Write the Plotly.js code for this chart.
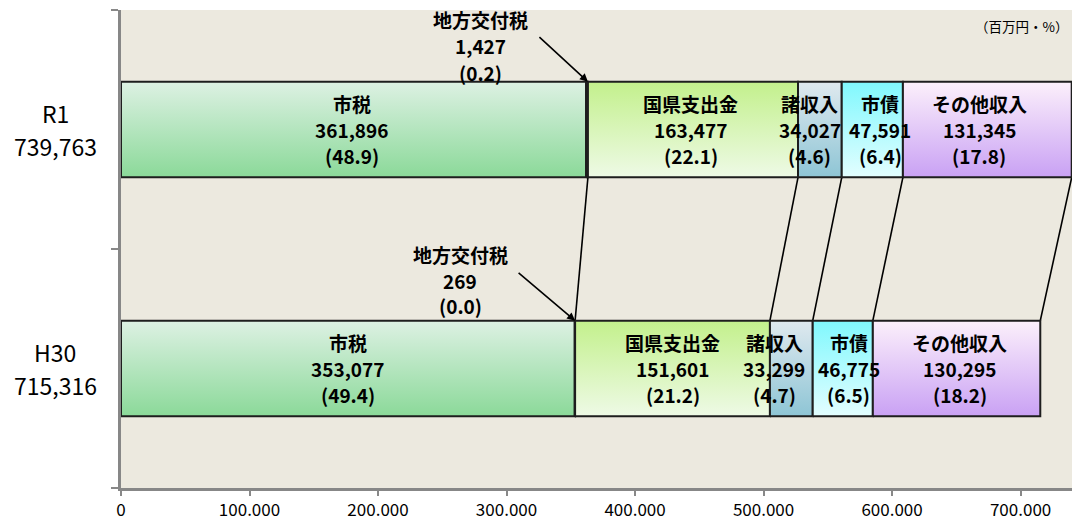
<!DOCTYPE html>
<html><head><meta charset="utf-8">
<script src="https://cdn.plot.ly/plotly-3.0.1.min.js"></script>
<style>html,body{margin:0;padding:0;background:#fff}</style>
</head><body><div id="chart" style="width:1072px;height:523px"></div>
<script>
// ---- data ----
const categories = ['H30', 'R1'];
const totals = [715316, 739763];
const itemNames = ['市税', '地方交付税', '国県支出金', '諸収入', '市債', 'その他収入'];
const valuesH30 = [353077, 269, 151601, 33299, 46775, 130295];
const valuesR1 = [361896, 1427, 163477, 34027, 47591, 131345];
const pctH30 = ['49.4', '0.0', '21.2', '4.7', '6.5', '18.2'];
const pctR1 = ['48.9', '0.2', '22.1', '4.6', '6.4', '17.8'];
const xTickVals = [0, 100000, 200000, 300000, 400000, 500000, 600000, 700000];
const xTickText = ['0', '100.000', '200.000', '300.000', '400.000', '500.000', '600.000', '700.000'];
const unitLabel = '（百万円・%）';

// ---- style ----
const topColors = ['#ddf1e3', '#111111', '#c3f08c', '#dfe9ef', '#80f8fd', '#fcf0fb'];
const bottomColors = ['#8bd999', '#111111', '#eefae6', '#8ec5d5', '#e3feff', '#c9a1f4'];
// pixel nudges of the in-bar labels (H30 row, R1 row)
const labelShift = [[0, 0, 0, -17, 6, 3], [-2, 0, -2, -10, 8, -8]];
const FONT = '"Noto Sans CJK JP", "Noto Sans", sans-serif';
const HALF = 0.2;

const seriesValues = [valuesH30, valuesR1];
const seriesPct = [pctH30, pctR1];
const fmt = v => v.toLocaleString('en-US');

const traces = [];
const annotations = [];
const cums = [];

seriesValues.forEach((vals, ci) => {
  const yc = ci + 0.5;
  let s = 0;
  const ends = [];
  vals.forEach((v, k) => {
    const e = s + v;
    ends.push(e);
    traces.push({
      type: 'scatter', mode: 'lines',
      x: [s, e, e, s, s],
      y: [yc - HALF, yc - HALF, yc + HALF, yc + HALF, yc - HALF],
      fill: 'toself',
      fillgradient: {type: 'vertical', colorscale: [[0, bottomColors[k]], [1, topColors[k]]]},
      line: {color: '#1e1e1e', width: 2},
      hoverinfo: 'skip', showlegend: false
    });
    if (k !== 1) {
      const lines = [itemNames[k], fmt(v), '(' + seriesPct[ci][k] + ')'];
      lines.forEach((t, li) => {
        annotations.push({
          x: (s + e) / 2, y: yc, xref: 'x', yref: 'y',
          text: t, showarrow: false, xanchor: 'center', yanchor: 'middle',
          xshift: labelShift[ci][k], yshift: 26 - li * 26,
          font: {family: FONT, size: 19, color: '#000', weight: 'bold'}
        });
      });
    }
    s = e;
  });
  cums.push(ends);

  // category label (two lines)
  [categories[ci], fmt(totals[ci])].forEach((t, li) => {
    annotations.push({
      x: 0, y: yc, xref: 'paper', yref: 'y', xanchor: 'center', yanchor: 'middle',
      xshift: -66, yshift: 17 - li * 33, showarrow: false,
      text: t, font: {family: FONT, size: 23, color: '#000'}
    });
  });
});

// 地方交付税 callouts
const callout = [
  {ci: 1, dx: -107, dy: [62, 36, 9], ax: -50, ay: -46},
  {ci: 0, dx: -115, dy: [66, 40, 15], ax: -58, ay: -49}
];
callout.forEach(c => {
  const xEnd = cums[c.ci][1];
  const yTop = c.ci + 0.5 + HALF;
  const lines = [itemNames[1], fmt(seriesValues[c.ci][1]), '(' + seriesPct[c.ci][1] + ')'];
  lines.forEach((t, li) => {
    annotations.push({
      x: xEnd, y: yTop, xref: 'x', yref: 'y', text: t, showarrow: false,
      xanchor: 'center', yanchor: 'middle', xshift: c.dx, yshift: c.dy[li],
      font: {family: FONT, size: 19, color: '#000', weight: 'bold'}
    });
  });
  annotations.push({
    x: xEnd, y: yTop, xref: 'x', yref: 'y', text: '', showarrow: true,
    ax: c.ax, ay: c.ay, arrowhead: 2, arrowsize: 1, arrowwidth: 1.6, arrowcolor: '#000'
  });
});

// connector lines between bars
const cx = [], cy = [];
for (let k = 1; k < itemNames.length; k++) {
  cx.push(cums[1][k], cums[0][k], null);
  cy.push(1.5 - HALF, 0.5 + HALF, null);
}
traces.unshift({
  type: 'scatter', mode: 'lines', x: cx, y: cy,
  line: {color: '#000', width: 1.6}, hoverinfo: 'skip', showlegend: false
});

annotations.push({
  x: 1, y: 0.967, xref: 'paper', yref: 'paper', xanchor: 'right', yanchor: 'middle',
  xshift: -2, showarrow: false, text: unitLabel, font: {family: FONT, size: 13.5, color: '#000'}
});

const layout = {
  width: 1072, height: 523,
  margin: {l: 121, r: 0, t: 10, b: 35},
  paper_bgcolor: '#ffffff', plot_bgcolor: '#ece9df',
  xaxis: {
    range: [0, 740000], tickvals: xTickVals, ticktext: xTickText,
    ticks: 'outside', ticklen: 5, tickwidth: 2, tickcolor: '#888',
    showline: true, linecolor: '#878787', linewidth: 3,
    showgrid: false, zeroline: false, fixedrange: true,
    tickfont: {family: FONT, size: 17, color: '#000'}
  },
  yaxis: {
    range: [0, 2], tickvals: [0, 1, 2], showticklabels: false,
    ticks: 'outside', ticklen: 7, tickwidth: 2, tickcolor: '#888',
    showline: true, linecolor: '#878787', linewidth: 3,
    showgrid: false, zeroline: false, fixedrange: true
  },
  annotations: annotations
};

Plotly.newPlot('chart', traces, layout, {displayModeBar: false, staticPlot: true});
</script>
</body></html>
